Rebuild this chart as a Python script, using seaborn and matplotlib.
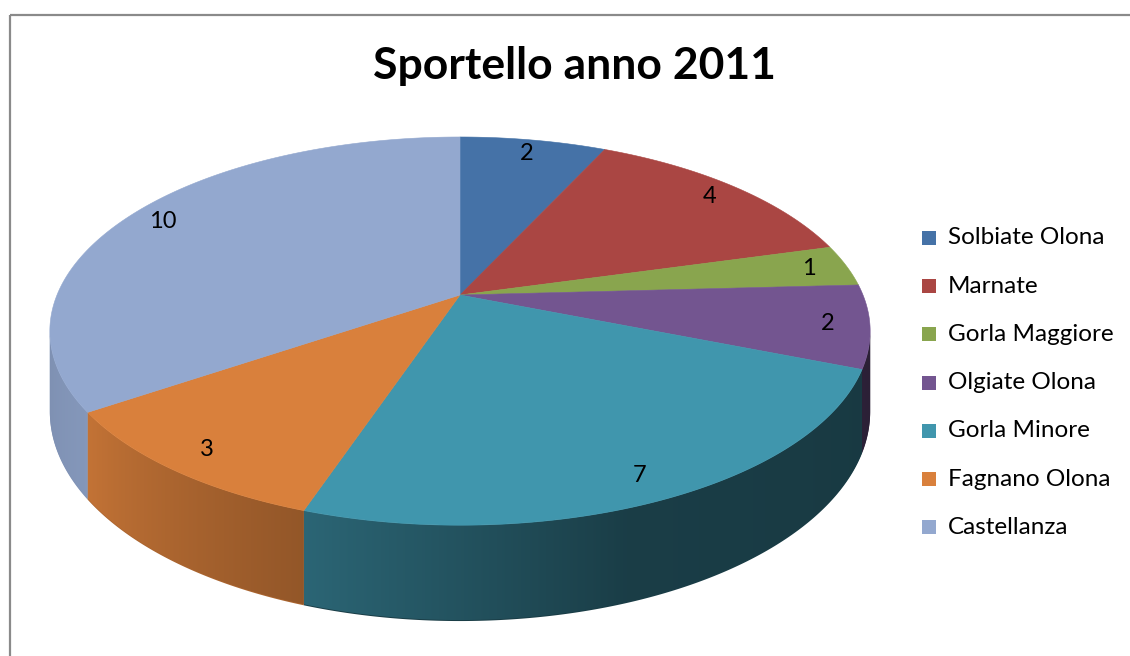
import numpy as np
import matplotlib
matplotlib.use("Agg")
import matplotlib.pyplot as plt
from matplotlib.patches import Polygon, Rectangle
import matplotlib.colors as mcolors
import seaborn as sns

# ---- data -------------------------------------------------------------
title = "Sportello anno 2011"
comuni = ["Solbiate Olona", "Marnate", "Gorla Maggiore", "Olgiate Olona",
          "Gorla Minore", "Fagnano Olona", "Castellanza"]
accessi = [2, 4, 1, 2, 7, 3, 10]
colori = ["#4572A7", "#AA4643", "#89A54E", "#735590",
          "#4096AD", "#D9803C", "#93A8CF"]

# ---- style ------------------------------------------------------------
sns.set_theme(style="white")
plt.rcParams["font.family"] = ["Lato", "DejaVu Sans"]
palette = sns.color_palette(colori)

W, H = 1130, 656
fig = plt.figure(figsize=(W / 100, H / 100), dpi=100)
ax = fig.add_axes([0, 0, 1, 1])
ax.set_xlim(0, W)
ax.set_ylim(H, 0)
ax.axis("off")

# chart frame
ax.add_patch(Rectangle((9.5, 14.5), 1200, 700, fill=False,
                       edgecolor="#8a8a8a", linewidth=1.6))

# ---- 3-D pie geometry (tilted disk seen in perspective) --------------
CX, CY = 460, 295
RX, RY = 403, 187.4
PERSP = 0.186
DEPTH = 78


def project(theta_deg, r=1.0, drop=0.0):
    """theta measured clockwise from 12 o'clock."""
    t = np.radians(theta_deg)
    u = r * np.sin(t)
    v = -r * np.cos(t)
    s = 1.0 / (1.0 - PERSP * v)
    return CX + RX * u * s, CY + (RY * v + drop) * s


# light falling on the side wall, by angle
shade_theta = [90, 105, 160, 180, 199, 236, 262, 275]
shade_val = [0.38, 0.38, 0.41, 0.55, 0.68, 0.90, 0.85, 0.85]

total = float(sum(accessi))
bounds = np.concatenate([[0], np.cumsum(accessi)]) / total * 360.0

# visible arc of the side wall (silhouette of the perspective disk)
vis_lo = np.degrees(np.arccos(-PERSP))
vis_hi = 360 - vis_lo

# shading per screen column along the front of the wall
theta_grid = np.linspace(vis_lo, vis_hi, 4000)
x_grid, _ = project(theta_grid)
col_x = np.arange(W) + 0.5
theta_of_x = np.interp(col_x, x_grid[::-1], theta_grid[::-1])
shade_x = np.interp(theta_of_x, shade_theta, shade_val)

# side walls
for i, col in enumerate(palette):
    a0, a1 = max(bounds[i], vis_lo), min(bounds[i + 1], vis_hi)
    if a1 <= a0:
        continue
    th = np.linspace(a0, a1, 300)
    xt, yt = project(th)
    xb, yb = project(th[::-1], drop=DEPTH)
    pts = list(zip(xt, yt)) + list(zip(xb, yb))
    base = np.array(mcolors.to_rgb(col))
    mid_f = np.interp(0.5 * (a0 + a1), shade_theta, shade_val)
    ax.add_patch(Polygon(pts, closed=True, facecolor=base * mid_f,
                         edgecolor="none"))
    # gradient fill, clipped to a slightly inset wall outline
    xb2, yb2 = project(th[::-1], drop=DEPTH - 0.8)
    inner = Polygon(list(zip(xt, yt)) + list(zip(xb2, yb2)), closed=True,
                    facecolor="none", edgecolor="none",
                    transform=ax.transData)
    img = np.clip(base[None, None, :] * shade_x[None, :, None], 0, 1)
    im = ax.imshow(img, extent=(0, W, H, 0), aspect="auto",
                   interpolation="nearest", zorder=1.5)
    im.set_clip_path(inner)

# top surface
for i, col in enumerate(palette):
    th = np.linspace(bounds[i], bounds[i + 1], 200)
    xs, ys = project(th)
    pts = [(CX, CY)] + list(zip(xs, ys))
    ax.add_patch(Polygon(pts, closed=True, facecolor=col, edgecolor=col,
                         linewidth=0.4, zorder=2))

# value labels
for i, val in enumerate(accessi):
    mid = 0.5 * (bounds[i] + bounds[i + 1])
    lx, ly = project(mid, r=0.9)
    ax.text(lx, ly, f"{val}", ha="center", va="center",
            fontsize=17, color="black", zorder=3)

# title
ax.text(574, 66, title, ha="center", va="center", fontsize=32,
        fontweight="bold", color="black")

# legend
for i, (name, col) in enumerate(zip(comuni, palette)):
    yc = 238 + i * 48.2
    ax.add_patch(Rectangle((922, yc - 7), 14, 14, facecolor=col,
                           edgecolor="none"))
    ax.text(948, yc, name, ha="left", va="center", fontsize=17.5,
            color="black")

fig.savefig("out.png", dpi=100)
